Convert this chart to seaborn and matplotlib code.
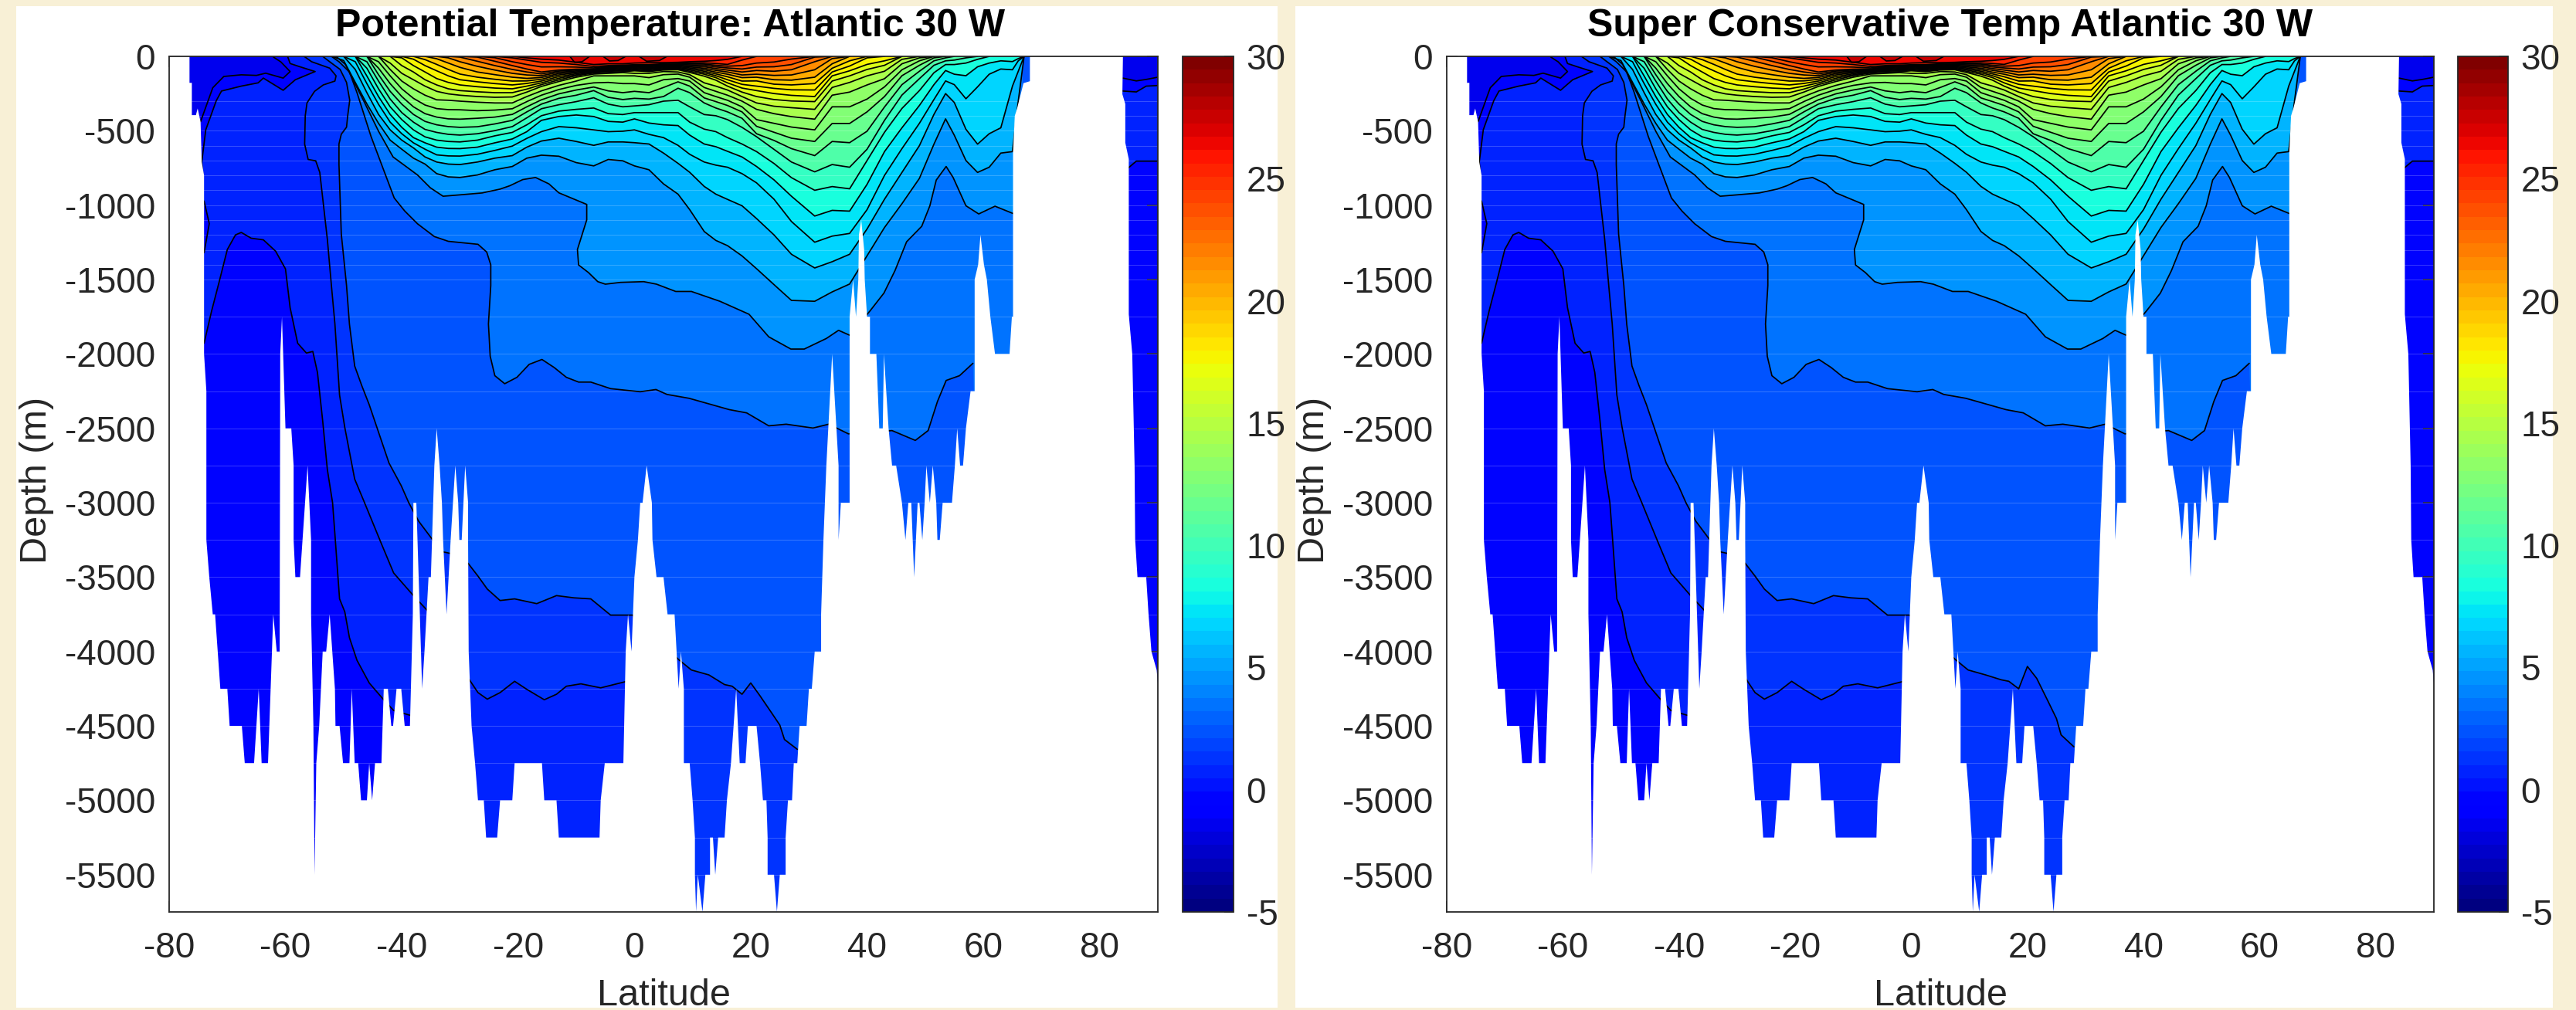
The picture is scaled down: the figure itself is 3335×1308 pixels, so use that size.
import numpy as np
import matplotlib
matplotlib.use("Agg")
import matplotlib.pyplot as plt
from matplotlib.colors import Normalize
from matplotlib.cm import ScalarMappable
from matplotlib.patches import Rectangle
import seaborn as sns

W, H = 3335, 1308

# cold isotherms, each one read as its own (lat, depth) path
lat_tm1 = [-62.1,-60.8,-59.2,-60.4,-63.4,-65,-67.6,-70.6,-72.5,-74.6]
dep_tm1 = [4,37,102,146,113,128,124,135,211,439]
lat_t0a = [-59.6,-59.2,-57.5,-54.9,-58.3,-60.4,-63.8,-64.7,-67.6,-71,-71.9,-73.7,-74.4,-74.2]
dep_t0a = [4,48,70,102,157,228,146,178,200,233,298,493,711,798]
lat_t0 = [-74,-72.7,-71.4,-70,-68.6,-67.6,-65.9,-63.8,-61.7,-60,-59.2,-57.9,-56.4,-55.3,-54.5,-53.6,-52.8,-51.9,-51.5,-50.7,-49.8,-49,-47.7,-45.6,-43.2,-41.4,-38.6]
dep_t0 = [1928,1711,1515,1298,1200,1183,1222,1233,1309,1428,1689,1928,1994,1983,2124,2450,2776,3000,3211,3646,3733,3907,4059,4211,4320,4396,4428]
lat_lens = [-74,-73.1,-74]
dep_lens = [972,1124,1320]
lat_t1 = [-56.8,-55.5,-52.4,-51.3,-51.5,-53.5,-55,-56.3,-56.6,-56.7,-56.1,-54.8,-54.1,-52.8,-52.1,-51.5,-50.7,-49.8,-48.1,-46.4,-43.5,-41.4,-38,-35.4,-28.2,-26.9,-25.3,-23.1,-20.6,-18.5,-15.5,-13.4,-11.7,-9.2,-5.8,-1.5]
dep_t1 = [0,36,79,131,166,192,235,313,399,590,693,702,780,1229,1540,1798,2276,2494,2841,3000,3276,3472,3624,3733,4200,4276,4320,4276,4200,4254,4324,4287,4233,4217,4244,4202]
lat_t2 = [-53.6,-52.4,-50.6,-49.5,-48.95,-49.3,-49.5,-50.4,-50.8,-50.8,-50.4,-49.5,-49,-48.1,-46.9,-45.6,-43.9,-42.2,-40.1,-38.8,-37.1,-34.6,-32.9,-31.6,-28.6,-26.9,-25.3,-23.1,-20.6,-16.8,-13.4,-10.4,-7.5,-4.1,-0.3,7.6,9.8,12.8,15.5,16.8,18.5,20,21.6,23.5,25,25.8,28]
dep_t2 = [0,36,88,175,295,399,476,523,588,727,1194,1540,1800,2081,2211,2341,2537,2733,2885,3000,3124,3254,3330,3341,3407,3493,3580,3657,3646,3678,3624,3639,3646,3755,3755,4054,4124,4157,4222,4233,4287,4211,4298,4407,4494,4591,4657]
# second panel differs a little from the first on this line north of 15 N
dep_t2_sc = dep_t2[:-9] + [4190,4200,4250,4100,4180,4330,4450,4560,4640]
lat_t3 = [-52.1,-50.8,-49,-47.7,-45.3,-43.3,-41.3,-39.5,-37.3,-34.4,-32,-26.9,-25.4,-24.7,-24.7,-25.1,-24.8,-24,-22.3,-20.2,-18.1,-15.9,-13.8,-11.7,-9.6,-7.5,-4.1,1,3.7,5.6,9.4,12.4,16.3,19.3,23.1,26.1,30.7,33.4,36.8,44.3,48.3,50.5,52.1,53.6,55.9,58.2]
dep_t3 = [0,36,105,244,537,745,952,1039,1125,1211,1243,1263,1315,1401,1540,1798,2015,2146,2200,2157,2070,2037,2091,2157,2189,2189,2233,2254,2239,2272,2298,2331,2374,2396,2483,2472,2498,2472,2537,2515,2581,2515,2320,2178,2146,2063]
lat_t4 = [-51.3,-49.7,-48.4,-46.6,-44,-41.5,-39.1,-37.3,-35.1,-32.9,-29.8,-26.2,-23.1,-21.4,-19.2,-17,-14.7,-13,-8.2,-8.2,-9.8,-9.6,-7.9,-6.3,-5,-2.4,1.6,3.8,7.1,9.8,14.7,19.7,23.1,26.9,29.2,33,35.1,37,40.5,42.9,44.8,46.8,49.4,50.8,51.9,53.6,54.8,57,59.2,62,65.1]
dep_t4 = [0,54,157,295,503,676,745,797,883,940,930,918,892,869,828,814,857,917,995,1099,1298,1402,1453,1514,1531,1519,1514,1531,1580,1580,1646,1733,1885,1967,1967,1896,1841,1874,1711,1591,1440,1246,1142,1004,831,740,814,1004,1059,1007,1056]

# warm isotherms share one set of latitudes, depth 0 = not below the surface
lat_st = [-52,-50,-48,-46,-44,-42,-40,-38,-36,-34,-32,-30,-27,-24,-21,
          -18.5,-16,-13,-10,-7,-4.5,-2,0,2.5,5,7.5,9.5,12,14,
          16,18.5,21,24,27,31,34,37,40,43,46,49,51.5,53.5,55,57,59,61,63,65,66,67]
dep_t05 = [0,28,175,320,450,563,624,684,724,788,810,814,797,762,740, 684,664,671,714,736,693,702,736,762,857,926,1030,1177,1237, 1272,1341,1427,1534,1640,1646,1583,1530,1340,1150,990,820,590,420,530,700,780,745,650,640,300,0]
dep_t06 = [0,0,88,244,390,494,563,615,676,710,724,727,710,684,667, 610,569,550,572,598,575,575,580,589,650,719,779,874,926, 961,1004,1090,1200,1330,1422,1380,1330,1160,960,780,600,390,250,310,490,590,520,480,200,100,0]
dep_t07 = [0,0,36,183,322,442,520,581,624,662,669,670,658,632,603, 551,506,472,480,494,506,503,494,524,546,598,658,710,731, 745,788,850,960,1110,1249,1208,1190,1030,800,620,450,290,165,190,285,205,120,85,90,30,0]
dep_t08 = [0,0,0,132,270,390,477,546,581,610,619,620,610,581,555, 506,430,404,394,404,437,442,420,448,460,465,529,589,607, 638,676,740,830,940,1073,1035,1040,860,640,480,330,190,95,120,130,70,45,30,35,15,0]
dep_t09 = [0,0,0,80,218,339,425,494,541,563,572,575,563,534,511, 460,399,368,356,347,385,391,378,378,378,378,442,489,506, 546,589,640,720,815,900,875,890,700,510,350,230,110,55,55,45,20]
dep_t10 = [0,0,0,36,166,287,378,442,491,511,524,529,520,499,472, 413,352,325,304,278,321,339,333,325,301,295,339,391,399, 425,477,540,625,710,776,727,745,624,430,260,150,60,30,25,10]
dep_t11 = [0,0,0,0,123,235,321,390,437,460,472,477,473,454,430, 373,321,282,261,230,275,290,282,287,270,214,244,313,347, 373,416,520,565,620,667,572,580,503,340,190,100,30,10]
dep_t12 = [0,0,0,0,79,183,270,339,385,408,420,422,416,408,390, 339,292,252,226,206,232,244,235,244,209,171,200,279,304, 330,373,470,510,550,572,451,451,373,270,130,60,10]
dep_t13 = [0,0,0,0,36,131,218,282,327,351,358,359,365,361,352, 304,261,223,195,178,175,183,183,192,157,149,166,244,270, 295,339,425,450,475,494,339,339,287,205,90,30]
dep_t14 = [0,0,0,0,0,88,166,218,261,292,295,301,308,313,313, 270,232,195,166,131,131,131,131,143,123,119,140,209,235, 261,301,356,385,405,422,261,240,192,150,50,10]
dep_t15 = [0,0,0,0,0,45,114,157,200,235,252,261,270,275,273, 240,202,169,140,119,114,109,114,114,102,105,123,178,200, 226,270,313,335,345,356,209,175,131,100,20]
dep_t16 = [0,0,0,0,0,0,62,105,157,192,218,230,238,244,244, 220,190,158,130,112,106,103,97,102,92,90,108,133,160, 200,240,270,290,300,304,166,131,88,60]
dep_t17 = [0,0,0,0,0,0,10,62,105,149,175,192,204,213,218, 200,178,147,124,107,100,97,92,96,87,85,100,120,143, 178,213,230,250,262,270,131,97,54,30]
dep_t18 = [0,0,0,0,0,0,0,19,62,97,131,157,171,183,192, 182,166,136,117,103,95,92,87,90,82,80,92,110,130, 157,188,200,215,225,226,105,65,10]
dep_t19 = [0,0,0,0,0,0,0,0,22,54,88,119,140,154,166, 165,154,125,110,99,90,87,82,85,77,75,85,100,118, 137,166,165,187,192,183,80,30]
dep_t20 = [0,0,0,0,0,0,0,0,0,16,45,74,105,123,140, 148,142,116,104,96,85,82,77,80,72,70,78,90,106, 120,143,140,157,160,140,50]
dep_t21 = [0,0,0,0,0,0,0,0,0,0,10,36,67,92,114, 125,130,107,98,92,80,77,72,75,68,65,71,80,94, 105,125,120,128,125,90,15]
dep_t22 = [0,0,0,0,0,0,0,0,0,0,0,5,33,62,88, 105,118,99,92,88,75,72,68,70,63,60,64,70,82, 92,105,95,100,90,36]
dep_t23 = [0,0,0,0,0,0,0,0,0,0,0,0,5,33,62, 85,105,92,86,85,70,67,64,65,58,55,57,60,71, 78,85,72,70,55,5]
dep_t24 = [0,0,0,0,0,0,0,0,0,0,0,0,0,9,36, 55,71,70,72,78,66,63,60,60,54,50,50,52,60, 66,62,45,38,18]
dep_t25 = [0,0,0,0,0,0,0,0,0,0,0,0,0,0,10, 25,40,45,55,68,62,59,56,55,50,47,45,44,48, 54,25]
dep_t26 = [0,0,0,0,0,0,0,0,0,0,0,0,0,0,0, 10,19,25,40,55,50,50,45,42,42,40,36,33,28, 20]
warm_levels = list(range(5, 27))
warm_rows = [dep_t05,dep_t06,dep_t07,dep_t08,dep_t09,dep_t10,dep_t11,dep_t12,dep_t13,dep_t14,dep_t15,
             dep_t16,dep_t17,dep_t18,dep_t19,dep_t20,dep_t21,dep_t22,dep_t23,dep_t24,dep_t25,dep_t26]

# warmest surface pools
lat_pool1 = [-11.1,-10.3,-9,-7.7]
dep_pool1 = [0,40,36,0]
lat_pool2 = [-5.4,-4.3,-2.8,-1.5]
dep_pool2 = [0,31,28,0]
lat_pool3 = [0.8,2.1,4.3,5.6]
dep_pool3 = [0,33,28,0]

# arctic end of the section
lat_arc = [84,86.3,88,90]
dep_arc_m1 = [146,165,155,140]
dep_arc_0a = [233,239,200,196]
dep_arc_0b = [780,704,704,704]

# sea floor as (lat, depth) pairs along the section
bot_south = [(-76.5,0),(-76.5,178),(-76.1,178),(-76.1,395),(-75.4,395),(-75.1,350),(-74.6,440),(-74.4,710),(-74,800),(-74,2000),(-73.6,2250),(-73.6,3250),(-73.1,3500),(-72.5,3750),(-72.1,3750),(-71.2,4250),(-70,4250),(-69.6,4500),(-67.5,4500),(-67,4750),(-65.4,4750),(-64.6,4250),(-64.1,4750),(-63,4750),(-62.1,3750),(-61.5,4000),(-61,4000),(-60.9,2000),(-60.6,1750),(-60,2500),(-59,2500),(-58.6,2750),(-58.6,3250),(-58.3,3500),(-57.5,3500),(-56.2,2750),(-55.6,3250),(-55.6,3750),(-55.2,4500),(-55,5500),(-54.7,4750),(-54.2,4500),(-53.6,4000),(-53,4000),(-52.4,3750),(-51.5,4250),(-51.4,4500),(-50.7,4500),(-50.1,4750),(-49,4750),(-48.6,4250),(-48.1,4750),(-47.5,4750),(-47,5000),(-46,5000),(-45.6,4750),(-45.1,5000),(-44.6,4750),(-43.5,4750),(-43.1,4250),(-42.4,4250),(-41.8,4500),(-41.5,4500),(-40.9,4250),(-40.1,4250),(-39.5,4500),(-38.6,4500),(-38.1,3750),(-38,3000),(-37.5,3000),(-36.9,3750),(-36.5,4250),(-36.1,4000),(-35.4,3500),(-35,3500),(-34.6,3000),(-34.4,2750),(-34,2500),(-33.5,2750),(-33.1,3000),(-32.9,3250),(-32.3,3750),(-31.6,3250),(-31.2,3000),(-30.8,2750),(-30.3,3000),(-30.1,3250),(-29.7,3250),(-29.4,3000),(-29.1,2750),(-28.6,3000),(-28.6,3250)]
bot_mid = [(-28.5,4000),(-28,4500),(-27.4,4750),(-26.9,5000),(-25.9,5000),(-25.5,5250),(-23.6,5250),(-23.1,5000),(-21,5000),(-20.6,4750),(-15.9,4750),(-15.5,5000),(-13.4,5000),(-13,5250),(-6,5250),(-5.8,5000),(-5.1,4750),(-1.9,4750),(-1.5,4000),(-1.1,3750),(-0.5,4000),(0,3500),(0.6,3250),(1,3000),(1.4,3000),(2.1,2750),(3,3000),(3.1,3250),(3.8,3500),(5,3500),(5.7,3750),(6.9,3750),(7.6,4250),(8,4000),(8.5,4250),(8.5,4750),(9.5,4750),(10,5000),(10.4,5250),(10.4,5500),(10.6,5750),(10.9,5500),(11.7,5750),(12.2,5500),(13,5500),(13,5250),(13.5,5250),(13.9,5500),(14.4,5250),(15.5,5250),(15.9,5000),(16.6,4750),(17.5,4250),(18.1,4750),(19.1,4750),(19.5,4500),(21,4500),(21.6,4750),(22.1,5000),(22.7,5000),(22.9,5250),(22.9,5500),(24,5500),(24.5,5750),(25,5500),(26,5500),(26,5250),(26.4,5000),(27.1,5000),(27.4,4750),(28,4750),(28.4,4500),(29.6,4500),(30,4250),(30.5,4250),(31,4000),(32.1,4000),(32.1,3750)]
bot_north = [(32.5,3250),(33,2750),(34,2000),(35.1,2750),(35.1,3250),(35.5,3000),(37,3000),(37,1750),(37.6,1500),(38.1,1750),(38.5,1500),(38.6,1200),(39,1100),(39.5,1300),(39.6,1500),(40,1750),(40.5,1750),(40.5,2000),(41.6,2000),(42.1,2500),(42.7,2500),(42.9,2000),(43.7,2500),(44.3,2750),(45,2750),(46,3000),(46.6,3250),(47.1,3000),(47.6,3000),(48.1,3500),(48.7,3000),(49,3000),(49.5,3250),(49.9,3000),(50.2,2750),(50.8,3000),(51.3,2750),(51.9,3000),(52.1,3250),(52.5,3250),(53,3000),(54.6,3000),(55.1,2750),(55.5,2500),(56,2750),(56.5,2750),(57,2500),(57.8,2250),(58.5,2250),(58.5,1500),(59.1,1400),(59.5,1200),(60.1,1400),(60.6,1500),(61.2,1750),(62,2000),(64.5,2000),(64.9,1750),(65.1,1750),(65.1,650),(65.4,400),(65.8,350),(66.9,180),(68,167),(68,0)]
bot_arctic = [(84,0),(83.9,254),(84.4,320),(84.4,580),(85,690),(85,1733),(85.6,2000),(86,2750),(86.1,3250),(86.5,3500),(88,3500),(88.4,3750),(88.9,4000),(89.8,4125),(90,4215)]
lat_bot = [p[0] for p in bot_south + bot_mid + bot_north + bot_arctic]
dep_bot = [p[1] for p in bot_south + bot_mid + bot_north + bot_arctic]

# standard depth levels, they show as faint lines through the fill
depth_levels = [300,400,500,600,700,800,900,1000,1100,1200,1300,1400,1500,1750,2000,2250,2500,2750,3000,3250,3500,3750,4000,4250,4500,4750,5000,5250,5500]

lat_ticks = [-80,-60,-40,-20,0,20,40,60,80]
depth_ticks = [0,-500,-1000,-1500,-2000,-2500,-3000,-3500,-4000,-4500,-5000,-5500]
temp_ticks = [-5,0,5,10,15,20,25,30]
titles = ["Potential Temperature: Atlantic 30 W", "Super Conservative Temp Atlantic 30 W"]

sns.set_theme(style="white")
plt.rcParams['font.family'] = ['Liberation Sans', 'DejaVu Sans']
plt.rcParams['axes.unicode_minus'] = False

GREY = "#262626"
cmap = matplotlib.colormaps["jet"].resampled(64)
norm = Normalize(-5, 30)


def band(level):
    return cmap(norm(level + 0.5))


def rect(x0, x1, y0, y1):
    return [x0 / W, 1 - y1 / H, (x1 - x0) / W, (y1 - y0) / H]


def iso_line(ax, lat, dep):
    sns.lineplot(x=lat, y=-np.asarray(dep, float), sort=False, estimator=None,
                 color="black", linewidth=1.25, ax=ax, zorder=5)


def draw_section(ax, dep2):
    ax.set_facecolor(band(-1))
    # painted cold to warm, each one covers everything above its isotherm
    ax.fill(lat_t0 + [-37, 70, 70, -78, -78], [-d for d in dep_t0] + [-6000, -6000, 0, 0, -1928], color=band(0), lw=0)
    ax.fill(lat_lens, [-d for d in dep_lens], color=band(-1), lw=0)
    ax.fill(lat_t0a + [-78, -78], [-d for d in dep_t0a] + [-798, 0], color=band(-1), lw=0)
    ax.fill(lat_tm1 + [-78, -78], [-d for d in dep_tm1] + [-439, 0], color=band(-2), lw=0)
    ax.fill(lat_t1 + [0, 70, 68], [-d for d in dep_t1] + [-6000, -6000, 0], color=band(1), lw=0)
    ax.fill(lat_t2 + [32, 70, 68.5], [-d for d in dep2] + [-6000, -6000, 0], color=band(2), lw=0)
    ax.fill(lat_t3 + [59, 66, 66.8], [-d for d in dep_t3] + [-3000, -3000, 0], color=band(3), lw=0)
    ax.fill(lat_t4 + [66.2, 66.6], [-d for d in dep_t4] + [-300, 0], color=band(4), lw=0)
    for level, row in zip(warm_levels, warm_rows):
        row = row + [0] * (len(lat_st) - len(row))
        ax.fill(lat_st, [-d for d in row], color=band(level), lw=0)
    for la, de in [(lat_pool1, dep_pool1), (lat_pool2, dep_pool2), (lat_pool3, dep_pool3)]:
        ax.fill(la, [-d for d in de], color=band(27), lw=0)
    # arctic stack
    ax.fill([83] + lat_arc + [90, 83], [-780] + [-d for d in dep_arc_0b] + [0, 0], color=band(0), lw=0)
    ax.fill([83] + lat_arc + [90, 83], [-233] + [-d for d in dep_arc_0a] + [0, 0], color=band(-1), lw=0)
    ax.fill([83] + lat_arc + [90, 83], [-146] + [-d for d in dep_arc_m1] + [0, 0], color=band(-2), lw=0)

    ax.hlines([-d for d in depth_levels], -80, 90, color="white", lw=0.7, alpha=0.22, zorder=4)

    for la, de in [(lat_tm1, dep_tm1), (lat_t0a, dep_t0a), (lat_t0, dep_t0), (lat_lens, dep_lens),
                   (lat_t1, dep_t1), (lat_t2, dep2), (lat_t3, dep_t3), (lat_t4, dep_t4),
                   (lat_pool1, dep_pool1), (lat_pool2, dep_pool2), (lat_pool3, dep_pool3),
                   (lat_arc, dep_arc_m1), (lat_arc, dep_arc_0a), (lat_arc, dep_arc_0b)]:
        iso_line(ax, la, de)
    for row in warm_rows:
        row = row + [0] * (len(lat_st) - len(row))
        wet = np.nonzero(row)[0]
        i0, i1 = max(wet[0] - 1, 0), min(wet[-1] + 2, len(row))
        iso_line(ax, lat_st[i0:i1], row[i0:i1])

    # everything under the sea floor goes white
    ax.fill([-80] + lat_bot + [90, -80], [0] + [-d for d in dep_bot] + [-5750, -5750], color="white", lw=0, zorder=6)

    ax.set_xlim(-80, 90)
    ax.set_ylim(-5750, 0)
    ax.set_xticks(lat_ticks)
    ax.set_yticks(depth_ticks)
    ax.set_yticklabels([str(t) for t in depth_ticks])
    ax.set_xticklabels([str(t) for t in lat_ticks])
    ax.set_xlabel("")
    ax.set_ylabel("")
    ax.tick_params(direction="in", length=10, width=1.1, color=GREY, labelcolor=GREY,
                   labelsize=33, top=True, right=True, bottom=True, left=True)
    ax.tick_params(axis="x", pad=18)
    ax.tick_params(axis="y", pad=13)
    for s in ax.spines.values():
        s.set_visible(True)
        s.set_color(GREY)
        s.set_linewidth(1.3)
        s.set_zorder(8)


fig = plt.figure(figsize=(W / 100, H / 100), dpi=100, facecolor="#f8f0d6")

panels = [(21, 1654), (1677, 3305)]
axes_px = [(219, 1499), (1873, 3151)]
cbar_px = [(1531, 1597), (3182, 3247)]
title_x = [868, 2525]
deep_line = [dep_t2, dep_t2_sc]

for k in range(2):
    fig.add_artist(Rectangle((panels[k][0] / W, 1 - 1305 / H), (panels[k][1] - panels[k][0]) / W, (1305 - 8) / H,
                             transform=fig.transFigure, facecolor="white", edgecolor="none", zorder=-5))
    ax = fig.add_axes(rect(axes_px[k][0], axes_px[k][1], 73, 1181))
    draw_section(ax, deep_line[k])

    cax = fig.add_axes(rect(cbar_px[k][0], cbar_px[k][1], 73, 1181))
    cb = fig.colorbar(ScalarMappable(norm=norm, cmap=cmap), cax=cax, ticks=temp_ticks)
    cb.ax.set_yticklabels([str(t) for t in temp_ticks])
    cb.ax.tick_params(direction="in", length=9, width=1.1, color=GREY, labelcolor=GREY, labelsize=33, pad=12)
    cb.outline.set_edgecolor(GREY)
    cb.outline.set_linewidth(1.3)

    fig.text(title_x[k] / W, 1 - 34 / H, titles[k], ha="center", va="center",
             fontsize=36, fontweight="bold", color="black")
    fig.text((axes_px[k][0] + axes_px[k][1]) / 2 / W, 1 - 1289 / H, "Latitude", ha="center", va="center",
             fontsize=35, color=GREY)
    fig.text((axes_px[k][0] - 171) / W, 1 - 622 / H, "Depth (m)", ha="center", va="center", rotation=90,
             fontsize=35, color=GREY)

fig.savefig("out.png", dpi=100, facecolor=fig.get_facecolor())
